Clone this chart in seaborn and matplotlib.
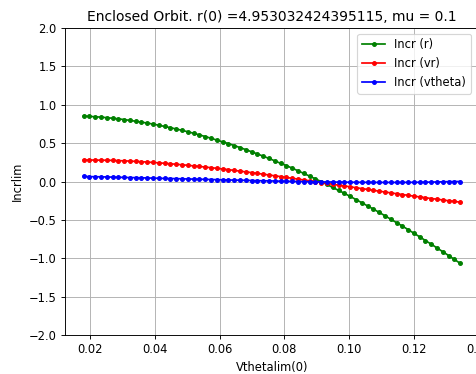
import matplotlib
matplotlib.use("Agg")
import matplotlib.pyplot as plt
import seaborn as sns
import pandas as pd

vtheta = [0.018, 0.01979, 0.02158, 0.02337, 0.02516, 0.02695, 0.02874, 0.03053, 0.03232, 0.03411,
          0.0359, 0.03769, 0.03948, 0.04127, 0.04306, 0.04485, 0.04664, 0.04843, 0.05022, 0.05201,
          0.0538, 0.05559, 0.05738, 0.05917, 0.06096, 0.06275, 0.06454, 0.06633, 0.06812, 0.06991,
          0.0717, 0.07349, 0.07528, 0.07707, 0.07886, 0.08065, 0.08244, 0.08423, 0.08602, 0.08781,
          0.0896, 0.09139, 0.09318, 0.09497, 0.09676, 0.09855, 0.10034, 0.10213, 0.10392, 0.10571,
          0.1075, 0.10929, 0.11108, 0.11287, 0.11466, 0.11645, 0.11824, 0.12003, 0.12182, 0.12361,
          0.1254, 0.12719, 0.12898, 0.13077, 0.13256, 0.13435]

incr_r = [0.852, 0.848, 0.844, 0.838, 0.832, 0.824, 0.816, 0.807, 0.796, 0.785,
          0.773, 0.761, 0.748, 0.733, 0.717, 0.701, 0.684, 0.666, 0.648, 0.628,
          0.607, 0.586, 0.563, 0.540, 0.516, 0.494, 0.468, 0.442, 0.415, 0.387,
          0.359, 0.330, 0.300, 0.269, 0.237, 0.207, 0.174, 0.140, 0.105, 0.070,
          0.035, -0.002, -0.039, -0.078, -0.116, -0.154, -0.194, -0.235, -0.276, -0.318,
          -0.359, -0.402, -0.446, -0.491, -0.536, -0.580, -0.627, -0.674, -0.721, -0.770,
          -0.817, -0.866, -0.916, -0.965, -1.016, -1.067]

incr_vr = [0.280, 0.280, 0.279, 0.278, 0.277, 0.275, 0.272, 0.269, 0.266, 0.262,
           0.258, 0.253, 0.248, 0.243, 0.237, 0.231, 0.224, 0.218, 0.211, 0.203,
           0.196, 0.188, 0.180, 0.172, 0.163, 0.154, 0.145, 0.135, 0.125, 0.116,
           0.106, 0.095, 0.085, 0.074, 0.064, 0.053, 0.042, 0.031, 0.020, 0.009,
           -0.002, -0.014, -0.025, -0.036, -0.048, -0.058, -0.069, -0.081, -0.092, -0.103,
           -0.115, -0.126, -0.137, -0.148, -0.159, -0.170, -0.180, -0.191, -0.201, -0.211,
           -0.222, -0.231, -0.241, -0.251, -0.260, -0.269]

incr_vtheta = [0.066, 0.064, 0.062, 0.061, 0.059, 0.057, 0.055, 0.053, 0.051, 0.050,
               0.048, 0.046, 0.044, 0.042, 0.040, 0.039, 0.037, 0.035, 0.033, 0.031,
               0.029, 0.028, 0.026, 0.024, 0.022, 0.020, 0.018, 0.017, 0.015, 0.013,
               0.011, 0.009, 0.008, 0.006, 0.004, 0.003, 0.001, 0.000, -0.001, -0.003,
               -0.004, -0.005, -0.006, -0.007, -0.008, -0.009, -0.010, -0.010, -0.011, -0.011,
               -0.012, -0.012, -0.012, -0.012, -0.012, -0.012, -0.011, -0.011, -0.010, -0.009,
               -0.008, -0.006, -0.004, -0.002, -0.001, 0.000]

labels = ["Incr (r)", "Incr (vr)", "Incr (vtheta)"]
colors = ["green", "red", "blue"]

title = "Enclosed Orbit. r(0) =4.953032424395115, mu = 0.1"

DPI = 83
fig = plt.figure(figsize=(476 / DPI, 374 / DPI), dpi=DPI)
ax = fig.add_axes([64.7 / 476, 39 / 374, 414.4 / 476, 307 / 374])

for vals, lab, col in zip([incr_r, incr_vr, incr_vtheta], labels, colors):
    df = pd.DataFrame({"x": vtheta, "y": vals})
    sns.lineplot(data=df, x="x", y="y", ax=ax, color=col, marker=".",
                 markersize=6.5, markeredgecolor=col, markeredgewidth=1.0,
                 linewidth=1.5, label=lab, sort=False, errorbar=None)

ax.set_ylim(-2, 2)
ax.grid(True)
ax.set_xlabel("Vthetalim(0)")
ax.set_ylabel("Incrlim")
ax.set_title(title)
ax.legend(loc="upper right", bbox_to_anchor=(1 - 2.5 / 414.4, 1))

fig.savefig("out.png", dpi=DPI)
